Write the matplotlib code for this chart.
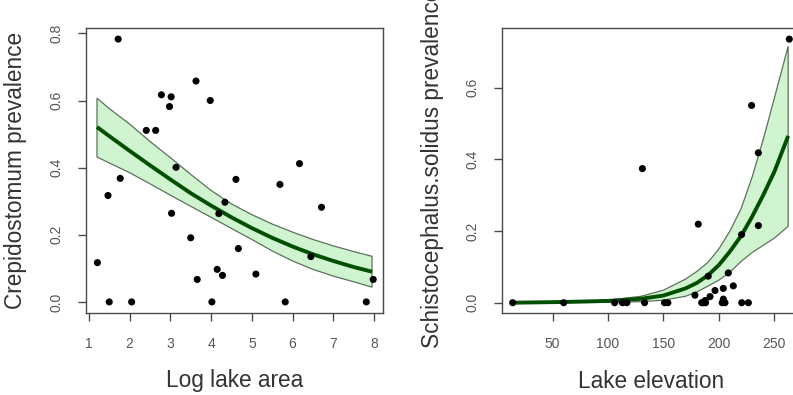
import numpy as np
import matplotlib
matplotlib.use("Agg")
from matplotlib import pyplot as plt

plt.rcParams['font.family'] = ['Liberation Sans', 'DejaVu Sans']

# left panel: Crepidostomum vs log lake area
area_x = [1.21, 1.50, 1.72, 1.47, 1.77, 2.05, 2.41, 2.64, 2.78, 3.02, 2.98,
          3.14, 3.03, 3.63, 3.98, 3.50, 3.66, 4.02, 4.15, 4.28, 4.34, 4.19,
          4.61, 4.67, 5.10, 5.69, 5.82, 6.17, 6.45, 6.71, 7.81, 7.98]
crep_y = [0.117, 0.0, 0.783, 0.317, 0.368, 0.0, 0.511, 0.511, 0.617, 0.611, 0.582,
          0.401, 0.264, 0.658, 0.600, 0.191, 0.067, 0.0, 0.097, 0.079, 0.297, 0.263,
          0.365, 0.159, 0.083, 0.350, 0.0, 0.412, 0.135, 0.282, 0.0, 0.067]

area_fit_x = [1.2, 1.5, 2.0, 2.5, 3.0, 3.5, 4.0, 4.5, 5.0, 5.5, 6.0, 6.5, 7.0, 7.5, 7.95]
crep_fit = [0.521, 0.494, 0.450, 0.407, 0.365, 0.324, 0.287, 0.252, 0.220,
            0.191, 0.165, 0.142, 0.122, 0.104, 0.090]
crep_hi = [0.607, 0.576, 0.530, 0.478, 0.430, 0.380, 0.332, 0.292, 0.260,
           0.232, 0.208, 0.186, 0.167, 0.150, 0.136]
crep_lo = [0.432, 0.414, 0.385, 0.352, 0.318, 0.285, 0.252, 0.219, 0.186,
           0.152, 0.122, 0.097, 0.077, 0.060, 0.044]

# right panel: Schistocephalus vs lake elevation
elev_x = [14, 60, 106, 113, 117, 133, 151, 154, 184.5, 186, 188, 203, 205.5, 220.6, 226.6,
          131, 181.4, 229.5, 235.6, 235.6, 263.5, 220.5, 190.4, 208.5, 213, 204,
          196.5, 192, 178.4, 187.5, 204]
schi_y = [0.0, 0.0, 0.0, 0.0, 0.0, 0.0, 0.0, 0.0, 0.0, 0.0, 0.0, 0.0, 0.0, 0.0, 0.0,
          0.374, 0.219, 0.550, 0.418, 0.215, 0.735, 0.190, 0.074, 0.083, 0.047, 0.040,
          0.034, 0.017, 0.021, 0.006, 0.010]

elev_fit_x = [14, 60, 100, 130, 150, 170, 180, 190, 200, 210, 220, 230, 240, 250, 262.5]
schi_fit = [0.000, 0.002, 0.005, 0.011, 0.020, 0.040, 0.055, 0.076, 0.105, 0.143,
            0.186, 0.240, 0.300, 0.365, 0.465]
schi_hi = [0.001, 0.002, 0.007, 0.018, 0.035, 0.066, 0.087, 0.112, 0.150, 0.200,
           0.262, 0.350, 0.455, 0.570, 0.715]
schi_lo = [0.000, 0.0003, 0.001, 0.003, 0.007, 0.018, 0.030, 0.046, 0.063, 0.085,
           0.115, 0.140, 0.160, 0.180, 0.213]

W, H = 793, 395
fig = plt.figure(figsize=(W / 100, H / 100), dpi=100)
top_px, bot_px = 28, 313
ax1 = fig.add_axes([86 / W, (H - bot_px) / H, 297 / W, (bot_px - top_px) / H])
ax2 = fig.add_axes([501.7 / W, (H - bot_px) / H, 297 / W, (bot_px - top_px) / H])

band_face = '#d0f4d0'
band_edge = '#5b725b'
fit_col = '#004f00'
frame_col = '#4a4a4a'
tick_txt = '#555555'
lab_txt = '#333333'


def panel(ax, px, py, fx, fit, hi, lo, xlim, ylim, xticks, yticks):
    poly_x = list(fx) + list(fx[::-1])
    poly_y = list(hi) + list(lo[::-1])
    ax.fill(poly_x, poly_y, facecolor=band_face, edgecolor=band_edge, linewidth=0.9, zorder=1)
    ax.plot(fx, fit, color=fit_col, linewidth=2.8, solid_capstyle='butt',
            solid_joinstyle='round', zorder=2)
    ax.scatter(px, py, s=26, color='black', edgecolors='none', zorder=3)
    ax.set_xlim(*xlim)
    ax.set_ylim(*ylim)
    ax.set_xticks(xticks)
    ax.set_xticklabels(['%d' % t for t in xticks])
    ax.set_yticks(yticks)
    ax.set_yticklabels(['%.1f' % t for t in yticks], rotation=90, va='center')
    for s in ax.spines.values():
        s.set_color(frame_col)
        s.set_linewidth(1.0)
    ax.tick_params(axis='both', direction='out', length=6, width=1.0, color=frame_col,
                   labelsize=10, labelcolor=tick_txt)
    ax.tick_params(axis='x', pad=11)
    ax.tick_params(axis='y', pad=10)


panel(ax1, area_x, crep_y, area_fit_x, crep_fit, crep_hi, crep_lo,
      (0.93, 8.22), (-0.033, 0.816), [1, 2, 3, 4, 5, 6, 7, 8],
      [0.0, 0.2, 0.4, 0.6, 0.8])
panel(ax2, elev_x, schi_y, elev_fit_x, schi_fit, schi_hi, schi_lo,
      (4.1, 272), (-0.0287, 0.766), [50, 100, 150, 200, 250],
      [0.0, 0.2, 0.4, 0.6])

fig.text(235 / W, 1 - 381 / H, 'Log lake area', ha='center', va='center',
         fontsize=16.3, color=lab_txt)
fig.text(16 / W, 1 - 170 / H, 'Crepidostomum prevalence', ha='center', va='center',
         rotation=90, fontsize=16.3, color=lab_txt)
fig.text(651 / W, 1 - 381 / H, 'Lake elevation', ha='center', va='center',
         fontsize=16.3, color=lab_txt)
# cut off at the top edge, as in the original figure
fig.text(432 / W, 1 - 168 / H, 'Schistocephalus.solidus prevalence', ha='center',
         va='center', rotation=90, fontsize=16.3, color=lab_txt)

fig.savefig('out.png', dpi=100)
